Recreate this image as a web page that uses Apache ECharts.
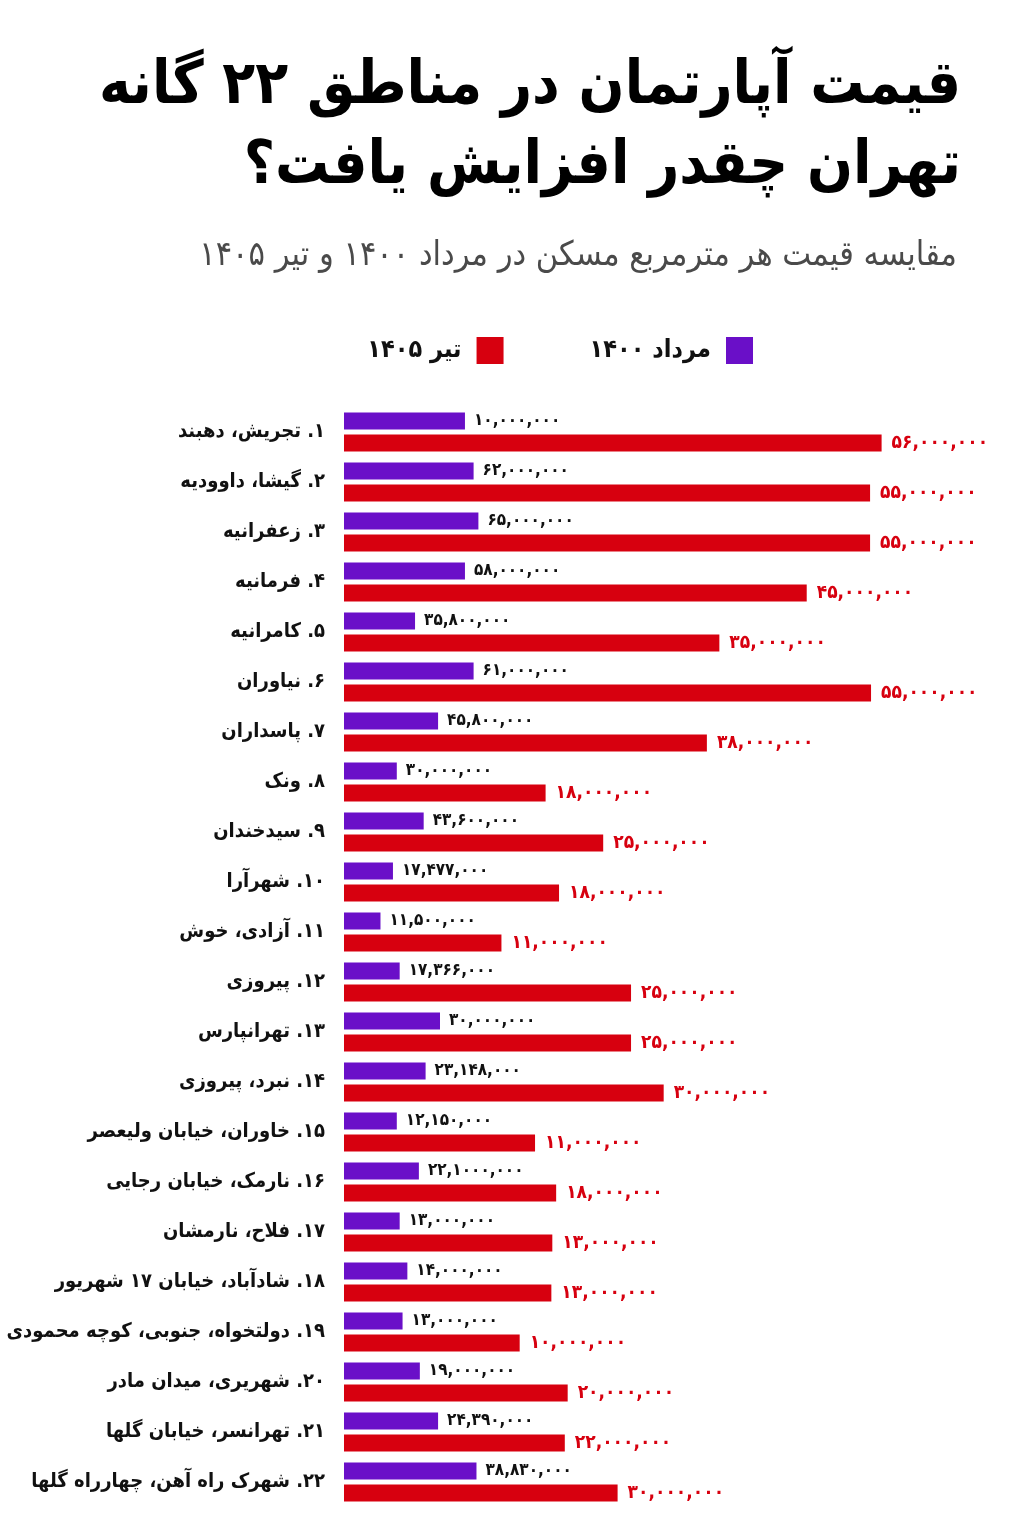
<!DOCTYPE html>
<html>
<head>
<meta charset="utf-8">
<script src="https://cdn.jsdelivr.net/npm/echarts@6/dist/echarts.min.js"></script>
<style>
  html, body { margin: 0; padding: 0; background: #fff; }
  #chart { width: 1024px; height: 1536px; }
</style>
</head>
<body>
<div id="chart" dir="rtl"></div>
<script>
// district names, top to bottom
const districts = [
  'تجریش، دهبند', 'گیشا، داوودیه', 'زعفرانیه', 'فرمانیه', 'کامرانیه',
  'نیاوران', 'پاسداران', 'ونک', 'سیدخندان', 'شهرآرا',
  'آزادی، خوش', 'پیروزی', 'تهرانپارس', 'نبرد، پیروزی', 'خاوران، خیابان ولیعصر',
  'نارمک، خیابان رجایی', 'فلاح، نارمشان', 'شادآباد، خیابان ۱۷ شهریور',
  'دولتخواه، جنوبی، کوچه محمودی', 'شهریری، میدان مادر', 'تهرانسر، خیابان گلها',
  'شهرک راه آهن، چهارراه گلها'
]

// figures printed next to the bars (as written in the source)
const printedOld = [
  '۱۰,۰۰۰,۰۰۰', '۶۲,۰۰۰,۰۰۰', '۶۵,۰۰۰,۰۰۰', '۵۸,۰۰۰,۰۰۰', '۳۵,۸۰۰,۰۰۰',
  '۶۱,۰۰۰,۰۰۰', '۴۵,۸۰۰,۰۰۰', '۳۰,۰۰۰,۰۰۰', '۴۳,۶۰۰,۰۰۰', '۱۷,۴۷۷,۰۰۰',
  '۱۱,۵۰۰,۰۰۰', '۱۷,۳۶۶,۰۰۰', '۳۰,۰۰۰,۰۰۰', '۲۳,۱۴۸,۰۰۰', '۱۲,۱۵۰,۰۰۰',
  '۲۲,۱۰۰۰,۰۰۰', '۱۳,۰۰۰,۰۰۰', '۱۴,۰۰۰,۰۰۰', '۱۳,۰۰۰,۰۰۰', '۱۹,۰۰۰,۰۰۰',
  '۲۴,۳۹۰,۰۰۰', '۳۸,۸۳۰,۰۰۰'
]
const printedNew = [
  '۵۶,۰۰۰,۰۰۰', '۵۵,۰۰۰,۰۰۰', '۵۵,۰۰۰,۰۰۰', '۴۵,۰۰۰,۰۰۰', '۳۵,۰۰۰,۰۰۰',
  '۵۵,۰۰۰,۰۰۰', '۳۸,۰۰۰,۰۰۰', '۱۸,۰۰۰,۰۰۰', '۲۵,۰۰۰,۰۰۰', '۱۸,۰۰۰,۰۰۰',
  '۱۱,۰۰۰,۰۰۰', '۲۵,۰۰۰,۰۰۰', '۲۵,۰۰۰,۰۰۰', '۳۰,۰۰۰,۰۰۰', '۱۱,۰۰۰,۰۰۰',
  '۱۸,۰۰۰,۰۰۰', '۱۳,۰۰۰,۰۰۰', '۱۳,۰۰۰,۰۰۰', '۱۰,۰۰۰,۰۰۰', '۲۰,۰۰۰,۰۰۰',
  '۲۲,۰۰۰,۰۰۰', '۳۰,۰۰۰,۰۰۰'
]

// bar lengths as drawn in the source graphic (millions, red-bar scale).
// the original isn't drawn to scale with its printed figures, so these are read off the bars
const barOld = [12.6, 13.5, 14.0, 12.6, 7.4, 13.5, 9.8, 5.5, 8.3, 5.1,
  3.8, 5.8, 10.0, 8.5, 5.5, 7.8, 5.8, 6.6, 6.1, 7.9, 9.8, 13.8]
const barNew = [56.0, 54.8, 54.8, 48.2, 39.1, 54.9, 37.8, 21.0, 27.0, 22.4,
  16.4, 29.9, 29.9, 33.3, 19.9, 22.1, 21.7, 21.6, 18.3, 23.3, 23.0, 28.5]

const seriesNames = ['مرداد ۱۴۰۰', 'تیر ۱۴۰۵']
const PURPLE = '#6a0fc8'
const RED = '#d7000f'
const FONT = '"DejaVu Sans Condensed", "DejaVu Sans", sans-serif'

function faDigits(n) {
  return String(n).replace(/[0-9]/g, d => '۰۱۲۳۴۵۶۷۸۹'[d])
}

const chart = echarts.init(document.getElementById('chart'))
chart.setOption({
  backgroundColor: '#fff',
  animation: false,
  textStyle: { fontFamily: FONT },
  title: [
    {
      text: 'قیمت آپارتمان در مناطق ۲۲ گانه',
      right: 58, top: 52,
      textStyle: { fontSize: 60, fontWeight: 'bold', color: '#000', fontFamily: FONT }
    },
    {
      text: 'تهران چقدر افزایش یافت؟',
      right: 58, top: 132,
      textStyle: { fontSize: 60, fontWeight: 'bold', color: '#000', fontFamily: FONT }
    },
    {
      text: 'مقایسه قیمت هر مترمربع مسکن در مرداد ۱۴۰۰ و تیر ۱۴۰۵',
      right: 62, top: 234,
      textStyle: { fontSize: 34, fontWeight: 'normal', color: '#4a4a4a', fontFamily: FONT }
    }
  ],
  legend: {
    data: [seriesNames[1], seriesNames[0]],
    right: 266, top: 332,
    align: 'right',
    icon: 'rect',
    itemWidth: 27, itemHeight: 27,
    itemGap: 86,
    textStyle: { fontSize: 25, fontWeight: 'bold', color: '#111', fontFamily: FONT, padding: [0, 10, 0, 0] }
  },
  grid: {
    left: 344, top: 407, width: 672, height: 1100,
    containLabel: false, outerBoundsMode: 'none'
  },
  xAxis: {
    type: 'value', min: 0, max: 70,
    show: false
  },
  yAxis: {
    type: 'category',
    inverse: true,
    data: districts,
    axisLine: { show: false },
    axisTick: { show: false },
    axisLabel: {
      margin: 19,
      fontSize: 20,
      fontWeight: 'bold',
      color: '#111',
      fontFamily: FONT,
      formatter: (v, i) => faDigits(i + 1) + '. ' + v
    }
  },
  series: [
    {
      name: seriesNames[0],
      type: 'bar',
      data: barOld,
      barWidth: 17,
      barGap: '30%',
      itemStyle: { color: PURPLE },
      label: {
        show: true, position: 'right', distance: 9,
        fontSize: 17, fontWeight: 'bold', color: '#111', fontFamily: FONT,
        formatter: p => printedOld[p.dataIndex]
      }
    },
    {
      name: seriesNames[1],
      type: 'bar',
      data: barNew,
      barWidth: 17,
      itemStyle: { color: RED },
      label: {
        show: true, position: 'right', distance: 10,
        fontSize: 19, fontWeight: 'bold', color: RED, fontFamily: FONT,
        formatter: p => printedNew[p.dataIndex]
      }
    }
  ]
})
</script>
</body>
</html>
